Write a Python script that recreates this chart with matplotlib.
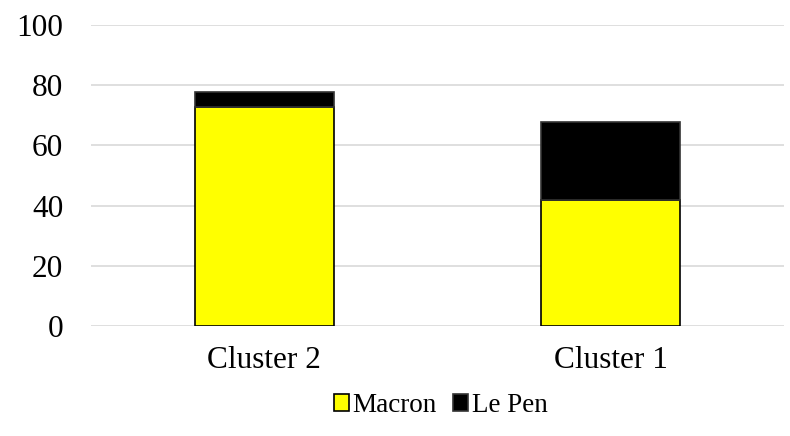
import matplotlib.pyplot as plt

plt.rcParams['font.family'] = ['Liberation Serif', 'DejaVu Serif']

clusters = ['Cluster 2', 'Cluster 1']
macron = [72.7, 41.9]
le_pen = [4.8, 25.9]
y_ticks = [0, 20, 40, 60, 80, 100]

fig = plt.figure(figsize=(7.9, 4.36), dpi=100)
ax = fig.add_axes([0.1152, 0.2516, 0.8772, 0.6922])

ax.bar(clusters, macron, width=0.40, color='#ffff00', edgecolor='black',
       linewidth=1.2, label='Macron', zorder=3)
ax.bar(clusters, le_pen, width=0.40, bottom=macron, color='black',
       edgecolor='#333333', linewidth=1.2, label='Le Pen', zorder=3)

ax.set_xlim(-0.5, 1.5)
ax.set_ylim(0, 100)
ax.set_yticks(y_ticks)
ax.yaxis.grid(True, color='#d9d9d9', linewidth=1.2, zorder=0)
ax.set_axisbelow(True)
for s in ax.spines.values():
    s.set_visible(False)
ax.tick_params(axis='both', length=0, labelsize=22.5, colors='black')
ax.tick_params(axis='y', pad=20)
ax.tick_params(axis='x', pad=14)

fig.legend(loc='center', bbox_to_anchor=(0.558, 0.07), ncol=2, frameon=False,
           fontsize=19.5, handlelength=0.55, handleheight=0.55, handletextpad=0.15,
           columnspacing=0.6)

fig.savefig('out.png', dpi=100)
